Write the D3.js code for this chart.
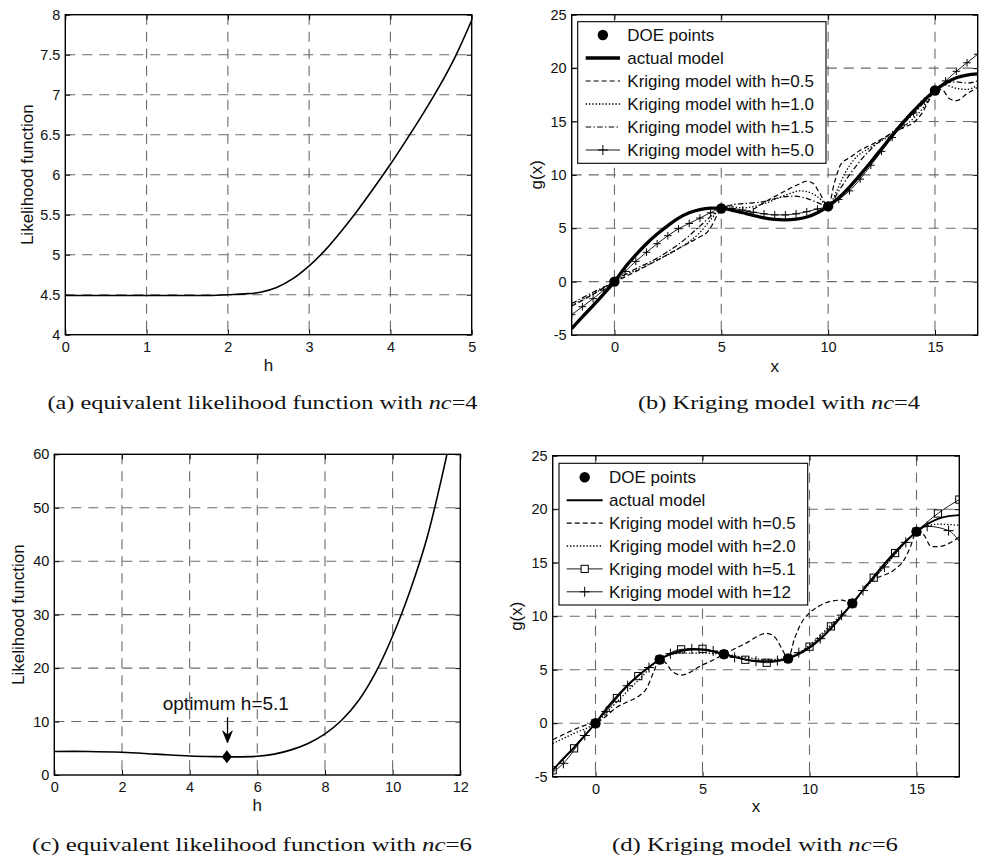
<!DOCTYPE html>
<html>
<head>
<meta charset="utf-8">
<script src="https://cdn.jsdelivr.net/npm/d3@7"></script>
<style>
  body { margin: 0; background: #fff; }
  svg { display: block; }
</style>
</head>
<body>
<svg id="fig" width="981" height="862"></svg>
<script>
// ---------- (a) equivalent likelihood, nc = 4 ----------
const likeA_h   = [0, 0.5, 1, 1.5, 1.8, 2, 2.2, 2.4, 2.6, 2.8, 3, 3.2, 3.4, 3.6, 3.8, 4, 4.2, 4.4, 4.6, 4.8, 5];
const likeA_val = [4.49, 4.49, 4.49, 4.49, 4.49, 4.5, 4.51, 4.53, 4.59, 4.7, 4.86, 5.06, 5.3, 5.56, 5.84, 6.13, 6.44, 6.76, 7.1, 7.48, 7.93];

// ---------- (c) equivalent likelihood, nc = 6 ----------
const likeC_h   = [0, 1, 2, 3, 4, 5, 5.1, 6, 6.5, 7, 7.5, 8, 8.5, 9, 9.5, 10, 10.5, 11, 11.5, 12];
const likeC_val = [4.4, 4.4, 4.25, 3.9, 3.55, 3.42, 3.4, 3.5, 3.9, 4.7, 5.9, 7.7, 10.3, 14.0, 19.2, 26.0, 34.2, 44, 57, 72];
const optimumH = 5.1, optimumL = 3.4;
const optimumLabel = "optimum h=5.1";
const optimumTextL = 13.4, arrowFromL = 10.8, arrowToL = 6.0;

// ---------- actual model (shared by b and d) ----------
const actualX = [-2, -1.5, -1, -0.5, 0, 0.5, 1, 1.5, 2, 2.5, 3, 3.5, 4, 4.5, 5, 5.5, 6, 6.5, 7, 7.5, 8, 8.5, 9, 9.5, 10, 10.5, 11, 11.5, 12, 12.5, 13, 13.5, 14, 14.5, 15, 15.5, 16, 16.5, 17];
const actualY = [-4.4, -3.3, -2.25, -1.15, 0, 1.35, 2.5, 3.55, 4.45, 5.25, 5.95, 6.45, 6.75, 6.88, 6.85, 6.7, 6.45, 6.2, 5.97, 5.82, 5.78, 5.85, 6.05, 6.45, 7.05, 7.85, 8.85, 10.0, 11.2, 12.45, 13.7, 14.9, 16.0, 17.0, 17.9, 18.6, 19.1, 19.35, 19.45];

// ---------- (b) Kriging models, nc = 4 ----------
const doeB_x = [0, 5, 10, 15];
const doeB_y = [0, 6.85, 7.05, 17.9];

const krigB05_x = [-2, -1, -0.5, 0, 0.4, 1, 2, 3, 4, 4.3, 4.6, 4.8, 5, 5.2, 5.6, 6, 6.5, 7, 8, 8.6, 9, 9.3, 9.6, 10, 10.3, 10.6, 11, 11.5, 12, 13, 13.5, 14, 14.4, 14.7, 15, 15.3, 15.7, 16, 16.5, 17];
const krigB05_y = [-2.3, -1.2, -0.6, 0, 0.35, 0.95, 2.0, 3.1, 4.2, 4.55, 5.4, 6.2, 6.85, 7.0, 6.6, 6.45, 6.8, 7.4, 8.5, 9.1, 9.4, 9.2, 8.3, 7.05, 9.3, 11.0, 11.6, 12.3, 12.8, 13.9, 14.4, 14.9, 15.8, 16.9, 17.9, 18.0, 17.1, 16.95, 17.6, 18.2];

const krigB10_x = [-2, -1, 0, 0.5, 1, 2, 3, 3.6, 4, 4.5, 5, 5.5, 6, 7, 8, 8.7, 9.2, 9.6, 10, 10.4, 10.8, 11.2, 12, 13, 14, 14.5, 15, 15.5, 16, 16.5, 17];
const krigB10_y = [-2.2, -1.15, 0, 0.6, 1.05, 2.0, 3.1, 3.9, 4.6, 5.8, 6.85, 7.0, 6.9, 7.3, 8.1, 8.5, 8.3, 7.8, 7.05, 8.5, 10.2, 11.4, 12.6, 13.8, 15.3, 16.4, 17.9, 18.4, 18.1, 18.0, 18.4];

const krigB15_x = [-2, -1, 0, 0.5, 1, 2, 3, 3.5, 4, 4.5, 5, 5.5, 6, 7, 7.8, 8.4, 9, 9.5, 10, 10.5, 11, 11.5, 12, 13, 14, 15, 15.5, 16, 16.5, 17];
const krigB15_y = [-2.05, -1.0, 0, 0.7, 1.2, 2.2, 3.5, 4.3, 5.2, 6.1, 6.85, 7.2, 7.3, 7.5, 7.9, 8.0, 7.8, 7.4, 7.05, 8.5, 10.0, 11.3, 12.4, 14.0, 15.7, 17.9, 18.6, 18.7, 18.6, 18.8];

const krigB50_x = [-2, -1.5, -1, -0.5, 0, 0.5, 1, 1.5, 2, 2.5, 3, 3.5, 4, 4.5, 5, 5.5, 6, 6.5, 7, 7.5, 8, 8.5, 9, 9.5, 10, 10.5, 11, 11.5, 12, 12.5, 13, 13.5, 14, 14.5, 15, 15.5, 16, 16.5, 17];
const krigB50_y = [-3.1, -2.35, -1.6, -0.8, 0, 0.95, 1.9, 2.75, 3.55, 4.3, 4.95, 5.45, 5.95, 6.45, 6.85, 6.85, 6.7, 6.5, 6.35, 6.25, 6.25, 6.35, 6.55, 6.8, 7.05, 7.7, 8.5, 9.6, 10.9, 12.2, 13.5, 14.7, 15.8, 16.9, 17.9, 18.8, 19.7, 20.5, 21.3];

// ---------- (d) Kriging models, nc = 6 ----------
const doeD_x = [0, 3, 6, 9, 12, 15];
const doeD_y = [0, 5.95, 6.45, 6.05, 11.2, 17.9];

const krigD05_x = [-2, -1, -0.5, 0, 0.4, 1, 1.5, 2, 2.4, 2.7, 3, 3.3, 3.6, 4, 5, 5.5, 6, 6.5, 7, 8, 8.4, 8.7, 9, 9.3, 9.6, 10, 10.5, 11, 11.5, 12, 12.3, 12.6, 13, 14, 14.4, 14.7, 15, 15.3, 15.7, 16, 17];
const krigD05_y = [-1.55, -0.6, -0.2, 0, 0.5, 1.5, 2.0, 2.5, 3.3, 4.7, 5.95, 5.6, 4.8, 4.5, 5.45, 5.9, 6.45, 6.95, 7.45, 8.4, 8.0, 7.0, 6.05, 7.9, 9.3, 10.3, 11.0, 11.4, 11.5, 11.2, 11.9, 12.8, 13.4, 14.4, 15.2, 16.4, 17.9, 17.7, 16.5, 16.5, 17.4];

const krigD20_x = [-2, -1, 0, 1, 2, 3, 4, 5, 6, 7, 8, 9, 10, 11, 12, 13, 14, 15, 16, 17];
const krigD20_y = [-1.9, -0.95, 0, 2.0, 4.0, 5.95, 6.55, 6.55, 6.45, 6.15, 5.95, 6.05, 7.3, 9.2, 11.2, 13.5, 15.8, 17.9, 18.6, 18.5];

const krigD51_x = [-2, -1, 0, 1, 2, 3, 4, 5, 6, 7, 8, 9, 10, 11, 12, 13, 14, 15, 16, 17];
const krigD51_y = [-4.4, -2.35, 0, 2.35, 4.4, 5.95, 6.9, 6.95, 6.45, 5.93, 5.65, 6.05, 7.15, 9.05, 11.2, 13.6, 15.9, 17.9, 19.6, 20.9];

const krigD12_x = [-2, -1.5, -0.5, 0.5, 1.5, 2.5, 3.5, 4.5, 5.5, 6.5, 7.5, 8.5, 9.5, 10.5, 11.5, 12.5, 13.5, 14.5, 15.5, 16.5, 17];
const krigD12_y = [-4.6, -3.75, -1.15, 1.1, 3.5, 5.2, 6.5, 6.95, 6.75, 6.15, 5.8, 5.85, 6.6, 7.9, 10.1, 12.4, 14.6, 16.9, 18.4, 18.0, 17.0];

// ---------- tick values ----------
const ticksA_x = [0, 1, 2, 3, 4, 5];
const ticksA_y = [4, 4.5, 5, 5.5, 6, 6.5, 7, 7.5, 8];
const ticksC_x = [0, 2, 4, 6, 8, 10, 12];
const ticksC_y = [0, 10, 20, 30, 40, 50, 60];
const ticksG_x = [0, 5, 10, 15];
const ticksG_y = [-5, 0, 5, 10, 15, 20, 25];

// ---------- legend labels ----------
const legendB = ["DOE points", "actual model", "Kriging model with h=0.5", "Kriging model with h=1.0", "Kriging model with h=1.5", "Kriging model with h=5.0"];
const legendD = ["DOE points", "actual model", "Kriging model with h=0.5", "Kriging model with h=2.0", "Kriging model with h=5.1", "Kriging model with h=12"];

// ---------- drawing ----------
const SANS = "'Liberation Sans', Arial, Helvetica, sans-serif";
const SERIF = "'Liberation Serif', 'Times New Roman', serif";
const svg = d3.select("#fig");
const defs = svg.append("defs");

const DASH = "5,3", DOT = "1.4,1.9", DASHDOT = "5.5,2.3,1.4,2.3";

function zip(xs, ys) { return xs.map((v, i) => [v, ys[i]]); }

function panel(cfg) {
  const x = d3.scaleLinear().domain(cfg.xDomain).range([cfg.left, cfg.right]);
  const y = d3.scaleLinear().domain(cfg.yDomain).range([cfg.bottom, cfg.top]);
  const g = svg.append("g");
  const clipId = "clip-" + cfg.id;
  defs.append("clipPath").attr("id", clipId).append("rect")
    .attr("x", cfg.left).attr("y", cfg.top)
    .attr("width", cfg.right - cfg.left).attr("height", cfg.bottom - cfg.top);

  // dashed grid
  const grid = g.append("g").attr("stroke", "#6b6b6b").attr("stroke-width", 1.1)
    .attr("stroke-dasharray", "10,7").attr("fill", "none");
  cfg.xTicks.filter(t => t > cfg.xDomain[0] && t < cfg.xDomain[1]).forEach(t => {
    grid.append("line").attr("x1", x(t)).attr("x2", x(t)).attr("y1", cfg.top).attr("y2", cfg.bottom);
  });
  cfg.yTicks.filter(t => t > cfg.yDomain[0] && t < cfg.yDomain[1]).forEach(t => {
    grid.append("line").attr("y1", y(t)).attr("y2", y(t)).attr("x1", cfg.left).attr("x2", cfg.right);
  });

  const plot = g.append("g").attr("clip-path", `url(#${clipId})`);
  const over = svg.append("g");

  // axes: inward ticks on all four sides
  const fmt = d => String(d);
  const axB = over.append("g").attr("transform", `translate(0,${cfg.bottom})`)
    .call(d3.axisBottom(x).tickValues(cfg.xTicks).tickSizeInner(-5).tickSizeOuter(0).tickPadding(7).tickFormat(fmt));
  const axT = over.append("g").attr("transform", `translate(0,${cfg.top})`)
    .call(d3.axisTop(x).tickValues(cfg.xTicks).tickSizeInner(-5).tickSizeOuter(0).tickFormat(""));
  const axL = over.append("g").attr("transform", `translate(${cfg.left},0)`)
    .call(d3.axisLeft(y).tickValues(cfg.yTicks).tickSizeInner(-5).tickSizeOuter(0).tickPadding(5).tickFormat(fmt));
  const axR = over.append("g").attr("transform", `translate(${cfg.right},0)`)
    .call(d3.axisRight(y).tickValues(cfg.yTicks).tickSizeInner(-5).tickSizeOuter(0).tickFormat(""));
  [axB, axT, axL, axR].forEach(a => {
    a.select(".domain").remove();
    a.selectAll("line").attr("stroke", "#000").attr("stroke-width", 1);
    a.selectAll("text").attr("fill", "#111").style("font-family", SANS).style("font-size", "14.5px");
  });
  over.append("rect").attr("x", cfg.left).attr("y", cfg.top)
    .attr("width", cfg.right - cfg.left).attr("height", cfg.bottom - cfg.top)
    .attr("fill", "none").attr("stroke", "#000").attr("stroke-width", 1.4);

  // axis titles
  over.append("text").attr("x", (cfg.left + cfg.right) / 2).attr("y", cfg.xLabelY)
    .attr("text-anchor", "middle").style("font-family", SANS).style("font-size", "17px").attr("fill", "#111")
    .text(cfg.xLabel);
  over.append("text").attr("transform", `translate(${cfg.yLabelX},${(cfg.top + cfg.bottom) / 2}) rotate(-90)`)
    .attr("text-anchor", "middle").style("font-family", SANS).style("font-size", "17px").attr("fill", "#111")
    .text(cfg.yLabel);

  return { x, y, plot, over };
}

function drawLine(p, xs, ys, style) {
  const line = d3.line().x(d => p.x(d[0])).y(d => p.y(d[1]))
    .curve(style.smooth ? d3.curveCatmullRom.alpha(0.5) : d3.curveMonotoneX);
  p.plot.append("path").datum(zip(xs, ys)).attr("d", line)
    .attr("fill", "none").attr("stroke", "#000")
    .attr("stroke-width", style.width || 1.2)
    .attr("stroke-dasharray", style.dash || null)
    .attr("stroke-linejoin", "round");
}

function plusMarks(p, pts, s) {
  p.plot.append("g").selectAll("path").data(pts).join("path")
    .attr("d", d => `M${p.x(d[0]) - s},${p.y(d[1])}H${p.x(d[0]) + s}M${p.x(d[0])},${p.y(d[1]) - s}V${p.y(d[1]) + s}`)
    .attr("stroke", "#000").attr("stroke-width", 1).attr("fill", "none");
}
function squareMarks(p, pts, s) {
  p.plot.append("g").selectAll("rect").data(pts).join("rect")
    .attr("x", d => p.x(d[0]) - s).attr("y", d => p.y(d[1]) - s)
    .attr("width", 2 * s).attr("height", 2 * s)
    .attr("fill", "none").attr("stroke", "#000").attr("stroke-width", 1);
}
function doeMarks(p, xs, ys) {
  p.plot.append("g").selectAll("circle").data(zip(xs, ys)).join("circle")
    .attr("cx", d => p.x(d[0])).attr("cy", d => p.y(d[1])).attr("r", 5.2).attr("fill", "#000");
}

function legend(p, box, labels, styles) {
  const lg = p.over.append("g");
  lg.append("rect").attr("x", box.x).attr("y", box.y).attr("width", box.w).attr("height", box.h)
    .attr("fill", "#fff").attr("stroke", "#000").attr("stroke-width", 1.1);
  labels.forEach((lab, i) => {
    const cy = box.row0 + i * box.step;
    const st = styles[i];
    const mid = (box.s0 + box.s1) / 2;
    if (st.line) {
      lg.append("line").attr("x1", box.s0).attr("x2", box.s1).attr("y1", cy).attr("y2", cy)
        .attr("stroke", "#000").attr("stroke-width", st.width || 1.2).attr("stroke-dasharray", st.dash || null);
    }
    if (st.marker === "dot") lg.append("circle").attr("cx", mid).attr("cy", cy).attr("r", 5.2).attr("fill", "#000");
    if (st.marker === "plus") lg.append("path").attr("d", `M${mid - 5},${cy}H${mid + 5}M${mid},${cy - 5}V${cy + 5}`)
      .attr("stroke", "#000").attr("stroke-width", 1);
    if (st.marker === "square") lg.append("rect").attr("x", mid - 3.6).attr("y", cy - 3.6).attr("width", 7.2).attr("height", 7.2)
      .attr("fill", "#fff").attr("stroke", "#000").attr("stroke-width", 1);
    lg.append("text").attr("x", box.tx).attr("y", cy + 6).style("font-family", SANS).style("font-size", "17px")
      .attr("fill", "#111").text(lab);
  });
}

function caption(cx, cy, width, head, tail) {
  const t = svg.append("text").attr("x", cx).attr("y", cy).attr("text-anchor", "middle")
    .style("font-family", SERIF).style("font-size", "19.5px").attr("fill", "#111")
    .attr("textLength", width).attr("lengthAdjust", "spacingAndGlyphs");
  t.append("tspan").text(head);
  t.append("tspan").style("font-style", "italic").text("nc");
  t.append("tspan").text(tail);
}

// ---- panel (a)
const pA = panel({ id: "a", left: 65.3, right: 471.7, top: 14.7, bottom: 334.7,
  xDomain: [0, 5], yDomain: [4, 8], xTicks: ticksA_x, yTicks: ticksA_y,
  xLabel: "h", xLabelY: 371, yLabel: "Likelihood function", yLabelX: 33.3 });
drawLine(pA, likeA_h, likeA_val, { width: 1.6, smooth: true });

// ---- panel (b)
const pB = panel({ id: "b", left: 571.7, right: 977.7, top: 14.7, bottom: 335,
  xDomain: [-2, 17], yDomain: [-5, 25], xTicks: ticksG_x, yTicks: ticksG_y,
  xLabel: "x", xLabelY: 372, yLabel: "g(x)", yLabelX: 542.4 });
drawLine(pB, krigB05_x, krigB05_y, { dash: DASH });
drawLine(pB, krigB10_x, krigB10_y, { dash: DOT, width: 1.3 });
drawLine(pB, krigB15_x, krigB15_y, { dash: DASHDOT });
drawLine(pB, krigB50_x, krigB50_y, { width: 0.9 });
plusMarks(pB, zip(krigB50_x, krigB50_y), 3.8);
drawLine(pB, actualX, actualY, { width: 3.3, smooth: true });
doeMarks(pB, doeB_x, doeB_y);
legend(pB, { x: 577.7, y: 21.7, w: 248.3, h: 141.6, row0: 35, step: 23, s0: 585.7, s1: 620, tx: 627.3 },
  legendB, [
    { marker: "dot" },
    { line: true, width: 3.3 },
    { line: true, dash: DASH },
    { line: true, dash: DOT, width: 1.3 },
    { line: true, dash: DASHDOT },
    { line: true, width: 0.9, marker: "plus" }
  ]);

// ---- panel (c)
const pC = panel({ id: "c", left: 54.3, right: 460.3, top: 454.3, bottom: 775,
  xDomain: [0, 12], yDomain: [0, 60], xTicks: ticksC_x, yTicks: ticksC_y,
  xLabel: "h", xLabelY: 811, yLabel: "Likelihood function", yLabelX: 24 });
drawLine(pC, likeC_h, likeC_val, { width: 1.6, smooth: true });
{
  const ox = pC.x(optimumH), oy = pC.y(optimumL);
  pC.over.append("path").attr("d", `M${ox},${oy - 6.5}L${ox + 5},${oy}L${ox},${oy + 6.5}L${ox - 5},${oy}Z`).attr("fill", "#000");
  const ax = pC.x(5.12), y0 = pC.y(arrowFromL), y1 = pC.y(arrowToL);
  pC.over.append("line").attr("x1", ax).attr("x2", ax).attr("y1", y0).attr("y2", y1 - 4)
    .attr("stroke", "#000").attr("stroke-width", 1.3);
  pC.over.append("path").attr("d", `M${ax},${y1}L${ax - 4.8},${y1 - 12}L${ax},${y1 - 8}L${ax + 4.8},${y1 - 12}Z`)
    .attr("fill", "#000").attr("stroke", "#000").attr("stroke-width", 0.8).attr("stroke-linejoin", "round");
  pC.over.append("text").attr("x", pC.x(5.07)).attr("y", pC.y(optimumTextL) + 7)
    .attr("text-anchor", "middle").style("font-family", SANS).style("font-size", "19px").attr("fill", "#111")
    .text(optimumLabel);
}

// ---- panel (d)
const pD = panel({ id: "d", left: 552.7, right: 959.3, top: 455.7, bottom: 776.7,
  xDomain: [-2, 17], yDomain: [-5, 25], xTicks: ticksG_x, yTicks: ticksG_y,
  xLabel: "x", xLabelY: 812, yLabel: "g(x)", yLabelX: 522.4 });
drawLine(pD, krigD05_x, krigD05_y, { dash: DASH });
drawLine(pD, krigD20_x, krigD20_y, { dash: DOT, width: 1.3 });
drawLine(pD, krigD51_x, krigD51_y, { width: 0.9 });
squareMarks(pD, zip(krigD51_x, krigD51_y), 3.6);
drawLine(pD, krigD12_x, krigD12_y, { width: 0.9 });
plusMarks(pD, zip(krigD12_x, krigD12_y).slice(1, -1), 5);
drawLine(pD, actualX, actualY, { width: 1.9, smooth: true });
doeMarks(pD, doeD_x, doeD_y);
legend(pD, { x: 559, y: 463.3, w: 248.7, h: 141.7, row0: 477.3, step: 22.9, s0: 566.7, s1: 602.7, tx: 609 },
  legendD, [
    { marker: "dot" },
    { line: true, width: 1.9 },
    { line: true, dash: DASH },
    { line: true, dash: DOT, width: 1.3 },
    { line: true, width: 0.9, marker: "square" },
    { line: true, width: 0.9, marker: "plus" }
  ]);

// ---- captions
caption(262.5, 409, 430, "(a) equivalent likelihood function with ", "=4");
caption(779, 409, 282, "(b) Kriging model with ", "=4");
caption(252, 851, 440, "(c) equivalent likelihood function with ", "=6");
caption(755, 851, 286, "(d) Kriging model with ", "=6");
</script>
</body>
</html>
